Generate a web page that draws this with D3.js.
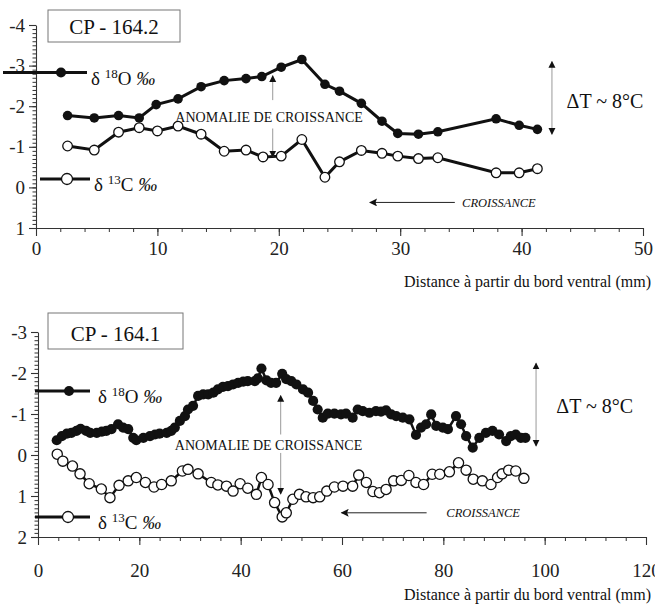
<!DOCTYPE html>
<html>
<head>
<meta charset="utf-8">
<script src="https://cdn.jsdelivr.net/npm/d3@7"></script>
<style>
  body { margin: 0; background: #fff; }
  svg, svg text { font-family: "Liberation Serif", Tinos, "Times New Roman", Times, "DejaVu Serif", serif !important; }
</style>
</head>
<body>
<script>
// ---- data: CP - 164.2 (top panel) ----
const topXTicks = [0, 10, 20, 30, 40, 50];
const topYTicks = [-4, -3, -2, -1, 0, 1];
const topDistO = [2.6, 4.8, 6.8, 8.5, 9.9, 11.7, 13.6, 15.5, 17.3, 18.6, 20.2, 21.9, 23.8, 25.0, 26.8, 28.5, 29.8, 31.5, 33.1, 37.9, 39.8, 41.3];
const topO18 = [-1.77, -1.71, -1.77, -1.71, -2.04, -2.18, -2.48, -2.63, -2.68, -2.73, -2.96, -3.15, -2.54, -2.37, -2.07, -1.63, -1.33, -1.31, -1.37, -1.69, -1.53, -1.43];
const topDistC = [2.6, 4.8, 6.8, 8.5, 10.0, 11.7, 13.6, 15.5, 17.3, 18.7, 20.2, 21.9, 23.8, 25.0, 26.8, 28.5, 29.8, 31.5, 33.1, 37.9, 39.8, 41.3];
const topC13 = [-1.02, -0.92, -1.36, -1.47, -1.39, -1.51, -1.31, -0.89, -0.92, -0.75, -0.77, -1.18, -0.25, -0.63, -0.91, -0.84, -0.77, -0.71, -0.73, -0.36, -0.36, -0.46];

// ---- data: CP - 164.1 (bottom panel) ----
const botXTicks = [0, 20, 40, 60, 80, 100, 120];
const botYTicks = [-3, -2, -1, 0, 1, 2];
const botDistO = [3.7, 4.7, 5.7, 6.6, 7.6, 8.4, 9.5, 10.3, 11.6, 12.6, 13.5, 14.5, 15.8, 16.8, 17.8, 18.8, 19.4, 20.8, 22.1, 23.1, 24.0, 25.4, 26.3, 27.0, 28.0, 29.0, 29.6, 30.6, 31.6, 32.6, 33.6, 34.6, 35.5, 36.5, 37.5, 38.5, 39.5, 40.5, 41.4, 42.8, 43.4, 44.1, 45.1, 46.0, 47.0, 48.2, 49.0, 50.0, 51.0, 52.3, 53.3, 54.3, 55.2, 56.2, 57.2, 58.5, 59.8, 60.8, 62.1, 63.1, 64.1, 65.4, 66.7, 67.7, 68.7, 69.7, 70.7, 72.0, 73.3, 74.6, 75.6, 76.6, 77.6, 78.6, 79.9, 80.9, 82.5, 83.5, 84.5, 85.8, 87.1, 88.4, 89.7, 91.0, 92.4, 93.3, 94.3, 95.3, 96.2];
const botO18 = [-0.36, -0.46, -0.52, -0.54, -0.59, -0.64, -0.59, -0.54, -0.54, -0.57, -0.59, -0.63, -0.75, -0.67, -0.63, -0.42, -0.36, -0.42, -0.46, -0.50, -0.52, -0.54, -0.59, -0.67, -0.83, -0.95, -1.11, -1.20, -1.44, -1.48, -1.48, -1.52, -1.60, -1.66, -1.68, -1.72, -1.76, -1.79, -1.80, -1.80, -1.87, -2.11, -1.82, -1.76, -1.76, -1.98, -1.85, -1.80, -1.72, -1.60, -1.52, -1.32, -1.11, -0.91, -1.01, -1.01, -0.99, -1.01, -0.91, -1.11, -1.07, -1.03, -1.07, -1.06, -1.09, -0.99, -0.95, -0.91, -0.87, -0.49, -0.67, -0.75, -0.99, -0.71, -0.67, -0.63, -0.95, -0.75, -0.46, -0.18, -0.42, -0.54, -0.59, -0.50, -0.34, -0.46, -0.50, -0.42, -0.42];
const botDistC = [3.8, 4.9, 6.8, 8.3, 10.1, 12.5, 14.2, 16.0, 17.8, 19.4, 21.2, 22.9, 24.4, 26.3, 28.5, 29.6, 31.6, 34.2, 35.5, 37.2, 38.5, 39.9, 41.4, 43.1, 44.1, 45.4, 46.7, 48.2, 49.0, 50.3, 51.6, 52.9, 54.3, 55.6, 57.0, 58.5, 60.2, 62.1, 63.3, 64.8, 66.1, 67.4, 68.7, 70.2, 71.7, 73.2, 74.6, 76.1, 77.8, 79.3, 81.2, 83.0, 84.5, 85.9, 87.7, 89.4, 90.7, 91.6, 92.9, 94.3, 95.9];
const botC13 = [-0.02, 0.15, 0.27, 0.46, 0.70, 0.83, 1.04, 0.74, 0.63, 0.55, 0.67, 0.78, 0.72, 0.63, 0.39, 0.35, 0.46, 0.67, 0.73, 0.76, 0.88, 0.70, 0.81, 0.96, 0.55, 0.72, 1.16, 1.51, 1.41, 1.08, 0.96, 1.02, 1.04, 1.02, 0.88, 0.78, 0.76, 0.76, 0.49, 0.67, 0.89, 0.92, 0.84, 0.63, 0.62, 0.50, 0.67, 0.72, 0.47, 0.47, 0.41, 0.19, 0.37, 0.59, 0.63, 0.72, 0.55, 0.46, 0.37, 0.39, 0.57];

const xLabel = "Distance à partir du bord ventral (mm)";
const serif = '"Liberation Serif", Tinos, "Times New Roman", Times, "DejaVu Serif", serif';

const svg = d3.select("body").append("svg")
    .attr("width", 655)
    .attr("height", 606)
    .attr("font-family", serif);

const defs = svg.append("defs");
// small black head for the thin annotation arrows
defs.append("marker")
    .attr("id", "head")
    .attr("markerUnits", "userSpaceOnUse")
    .attr("viewBox", "0 0 10 10")
    .attr("refX", 9).attr("refY", 5)
    .attr("markerWidth", 7).attr("markerHeight", 11)
    .attr("orient", "auto-start-reverse")
    .append("path").attr("d", "M0,0 L10,5 L0,10 Z").attr("fill", "#111");
defs.append("marker")
    .attr("id", "bighead")
    .attr("markerUnits", "userSpaceOnUse")
    .attr("viewBox", "0 0 10 10")
    .attr("refX", 9).attr("refY", 5)
    .attr("markerWidth", 14).attr("markerHeight", 8)
    .attr("orient", "auto")
    .append("path").attr("d", "M0,0 L10,5 L0,10 L2,5 Z").attr("fill", "#111");

function zip(xs, ys) { return xs.map((d, i) => ({ x: d, y: ys[i] })); }

function legendText(g, x, y, sup, el) {
    const t = g.append("text")
        .attr("x", x).attr("y", y)
        .style("font-size", "19px")
        .attr("fill", "#111");
    t.append("tspan").text("δ ");
    t.append("tspan").attr("dy", -7).style("font-size", "13px").text(sup);
    t.append("tspan").attr("dy", 7).text(el + " ");
    t.append("tspan").style("font-style", "italic").text("‰");
}

function drawPanel(p) {
    const x = d3.scaleLinear().domain(p.xDomain).range(p.xRange);
    const y = d3.scaleLinear().domain(p.yDomain).range(p.yRange);
    const g = svg.append("g");
    const yBottom = p.yRange[1];

    // minor ticks
    g.append("g")
        .attr("transform", `translate(0,${yBottom})`)
        .call(d3.axisBottom(x).tickValues(d3.range(p.xDomain[0], p.xDomain[1] + 0.001, p.xMinor)).tickSize(4).tickFormat(""))
        .call(a => a.select(".domain").remove());
    g.append("g")
        .attr("transform", `translate(${p.xRange[0]},0)`)
        .call(d3.axisLeft(y).tickValues(d3.range(p.yDomain[0], p.yDomain[1] + 0.001, 0.1)).tickSize(3.5).tickFormat(""))
        .call(a => a.select(".domain").remove());

    // main axes
    const xa = g.append("g")
        .attr("transform", `translate(0,${yBottom})`)
        .call(d3.axisBottom(x).tickValues(p.xTicks).tickSize(8).tickSizeOuter(0).tickPadding(p.xPad).tickFormat(d => String(d)));
    const ya = g.append("g")
        .attr("transform", `translate(${p.xRange[0]},0)`)
        .call(d3.axisLeft(y).tickValues(p.yTicks).tickSize(7).tickSizeOuter(0).tickPadding(4).tickFormat(d => String(d)));
    [xa, ya].forEach(a => {
        a.attr("font-family", serif).attr("font-size", 19);
        a.selectAll("path, line").attr("stroke", "#333").attr("stroke-width", 1.1);
        a.selectAll("text").attr("fill", "#222");
    });
    g.selectAll("g.tick line").attr("stroke", "#333");

    g.append("text")
        .attr("x", 651).attr("y", p.xLabelY)
        .attr("text-anchor", "end")
        .style("font-size", "16px")
        .attr("fill", "#111")
        .text(xLabel);

    // title box
    g.append("rect")
        .attr("x", p.box[0]).attr("y", p.box[1]).attr("width", p.box[2]).attr("height", p.box[3])
        .attr("fill", "#fff").attr("stroke", "#777").attr("stroke-width", 1);
    g.append("text")
        .attr("x", p.box[0] + p.box[2] / 2).attr("y", p.box[1] + p.box[3] - 8)
        .attr("text-anchor", "middle")
        .style("font-size", "21px")
        .attr("fill", "#111")
        .text(p.title);

    // series
    const line = d3.line().x(d => x(d.x)).y(d => y(d.y));
    const dO = zip(p.distO, p.o18);
    const dC = zip(p.distC, p.c13);
    g.append("path").datum(dC).attr("d", line)
        .attr("fill", "none").attr("stroke", "#111").attr("stroke-width", p.lw);
    g.selectAll(".c13").data(dC).enter().append("circle")
        .attr("class", "c13")
        .attr("cx", d => x(d.x)).attr("cy", d => y(d.y)).attr("r", p.r)
        .attr("fill", "#fff").attr("stroke", "#111").attr("stroke-width", 1.3);
    g.append("path").datum(dO).attr("d", line)
        .attr("fill", "none").attr("stroke", "#111").attr("stroke-width", p.lw);
    g.selectAll(".o18").data(dO).enter().append("circle")
        .attr("class", "o18")
        .attr("cx", d => x(d.x)).attr("cy", d => y(d.y)).attr("r", p.r)
        .attr("fill", "#111");

    // legends
    const lo = p.legO, lc = p.legC;
    g.append("line").attr("x1", lo[0]).attr("x2", lo[1]).attr("y1", lo[3]).attr("y2", lo[3])
        .attr("stroke", "#111").attr("stroke-width", 3);
    g.append("circle").attr("cx", lo[2]).attr("cy", lo[3]).attr("r", 5).attr("fill", "#111");
    legendText(g, lo[4], lo[3] + 12, "18", "O");
    g.append("line").attr("x1", lc[0]).attr("x2", lc[1]).attr("y1", lc[3]).attr("y2", lc[3])
        .attr("stroke", "#111").attr("stroke-width", 3);
    g.append("circle").attr("cx", lc[2]).attr("cy", lc[3]).attr("r", 5.5)
        .attr("fill", "#fff").attr("stroke", "#111").attr("stroke-width", 1.3);
    legendText(g, lc[4], lc[3] + 12, "13", "C");

    // growth anomaly
    const an = p.anomaly;
    g.append("text")
        .attr("x", x(an.tx)).attr("y", y(an.ty))
        .attr("text-anchor", "middle")
        .style("font-size", "14px")
        .attr("fill", "#111")
        .text("ANOMALIE DE CROISSANCE");
    g.append("line").attr("x1", x(an.ax)).attr("x2", x(an.ax)).attr("y1", y(an.up[0])).attr("y2", y(an.up[1]))
        .attr("stroke", "#999").attr("stroke-width", 1).attr("marker-end", "url(#head)");
    g.append("line").attr("x1", x(an.ax)).attr("x2", x(an.ax)).attr("y1", y(an.down[0])).attr("y2", y(an.down[1]))
        .attr("stroke", "#999").attr("stroke-width", 1).attr("marker-end", "url(#head)");

    // delta T
    const dt = p.deltaT;
    g.append("line").attr("x1", x(dt.x)).attr("x2", x(dt.x)).attr("y1", y(dt.y0)).attr("y2", y(dt.y1))
        .attr("stroke", "#999").attr("stroke-width", 1)
        .attr("marker-start", "url(#head)").attr("marker-end", "url(#head)");
    g.append("text")
        .attr("x", x(dt.tx)).attr("y", y(dt.ty))
        .style("font-size", "20px")
        .attr("fill", "#111")
        .text("ΔT ~ 8°C");

    // growth direction
    const gr = p.growth;
    g.append("line").attr("x1", x(gr.x0)).attr("x2", x(gr.x1)).attr("y1", y(gr.y)).attr("y2", y(gr.y))
        .attr("stroke", "#222").attr("stroke-width", 1).attr("marker-end", "url(#bighead)");
    g.append("text")
        .attr("x", x(gr.tx)).attr("y", y(gr.y) + 4.5)
        .style("font-size", "12.5px").style("font-style", "italic")
        .attr("fill", "#111")
        .text("CROISSANCE");
}

drawPanel({
    title: "CP - 164.2",
    xDomain: [0, 50], xRange: [36, 643], xTicks: topXTicks, xMinor: 2, xPad: 6,
    yDomain: [-4, 1], yRange: [25, 228], yTicks: topYTicks,
    xLabelY: 287,
    box: [48, 10, 132, 32],
    distO: topDistO, o18: topO18, distC: topDistC, c13: topC13,
    lw: 3, r: 4.8,
    legO: [3, 87, 61, 72.5, 91], legC: [40, 90, 67, 179, 94],
    anomaly: { tx: 19.2, ty: -1.6, ax: 19.5, up: [-2.15, -2.75], down: [-1.45, -0.75] },
    deltaT: { x: 42.5, y0: -3.1, y1: -1.31, tx: 43.7, ty: -1.95 },
    growth: { x0: 34.5, x1: 27.5, y: 0.37, tx: 35.1 }
});

drawPanel({
    title: "CP - 164.1",
    xDomain: [0, 120], xRange: [38, 646], xTicks: botXTicks, xMinor: 4, xPad: 19,
    yDomain: [-3, 2], yRange: [332, 537], yTicks: botYTicks,
    xLabelY: 600,
    box: [48, 313, 135, 36],
    distO: botDistO, o18: botO18, distC: botDistC, c13: botC13,
    lw: 2.5, r: 5.1,
    legO: [35, 90, 69, 391, 98], legC: [35, 90, 68, 517, 98],
    anomaly: { tx: 45.5, ty: -0.13, ax: 47.9, up: [-0.5, -1.45], down: [-0.05, 0.95] },
    deltaT: { x: 98.3, y0: -2.24, y1: -0.22, tx: 102.3, ty: -1.03 },
    growth: { x0: 76.7, x1: 59.9, y: 1.41, tx: 80.6 }
});
</script>
</body>
</html>
